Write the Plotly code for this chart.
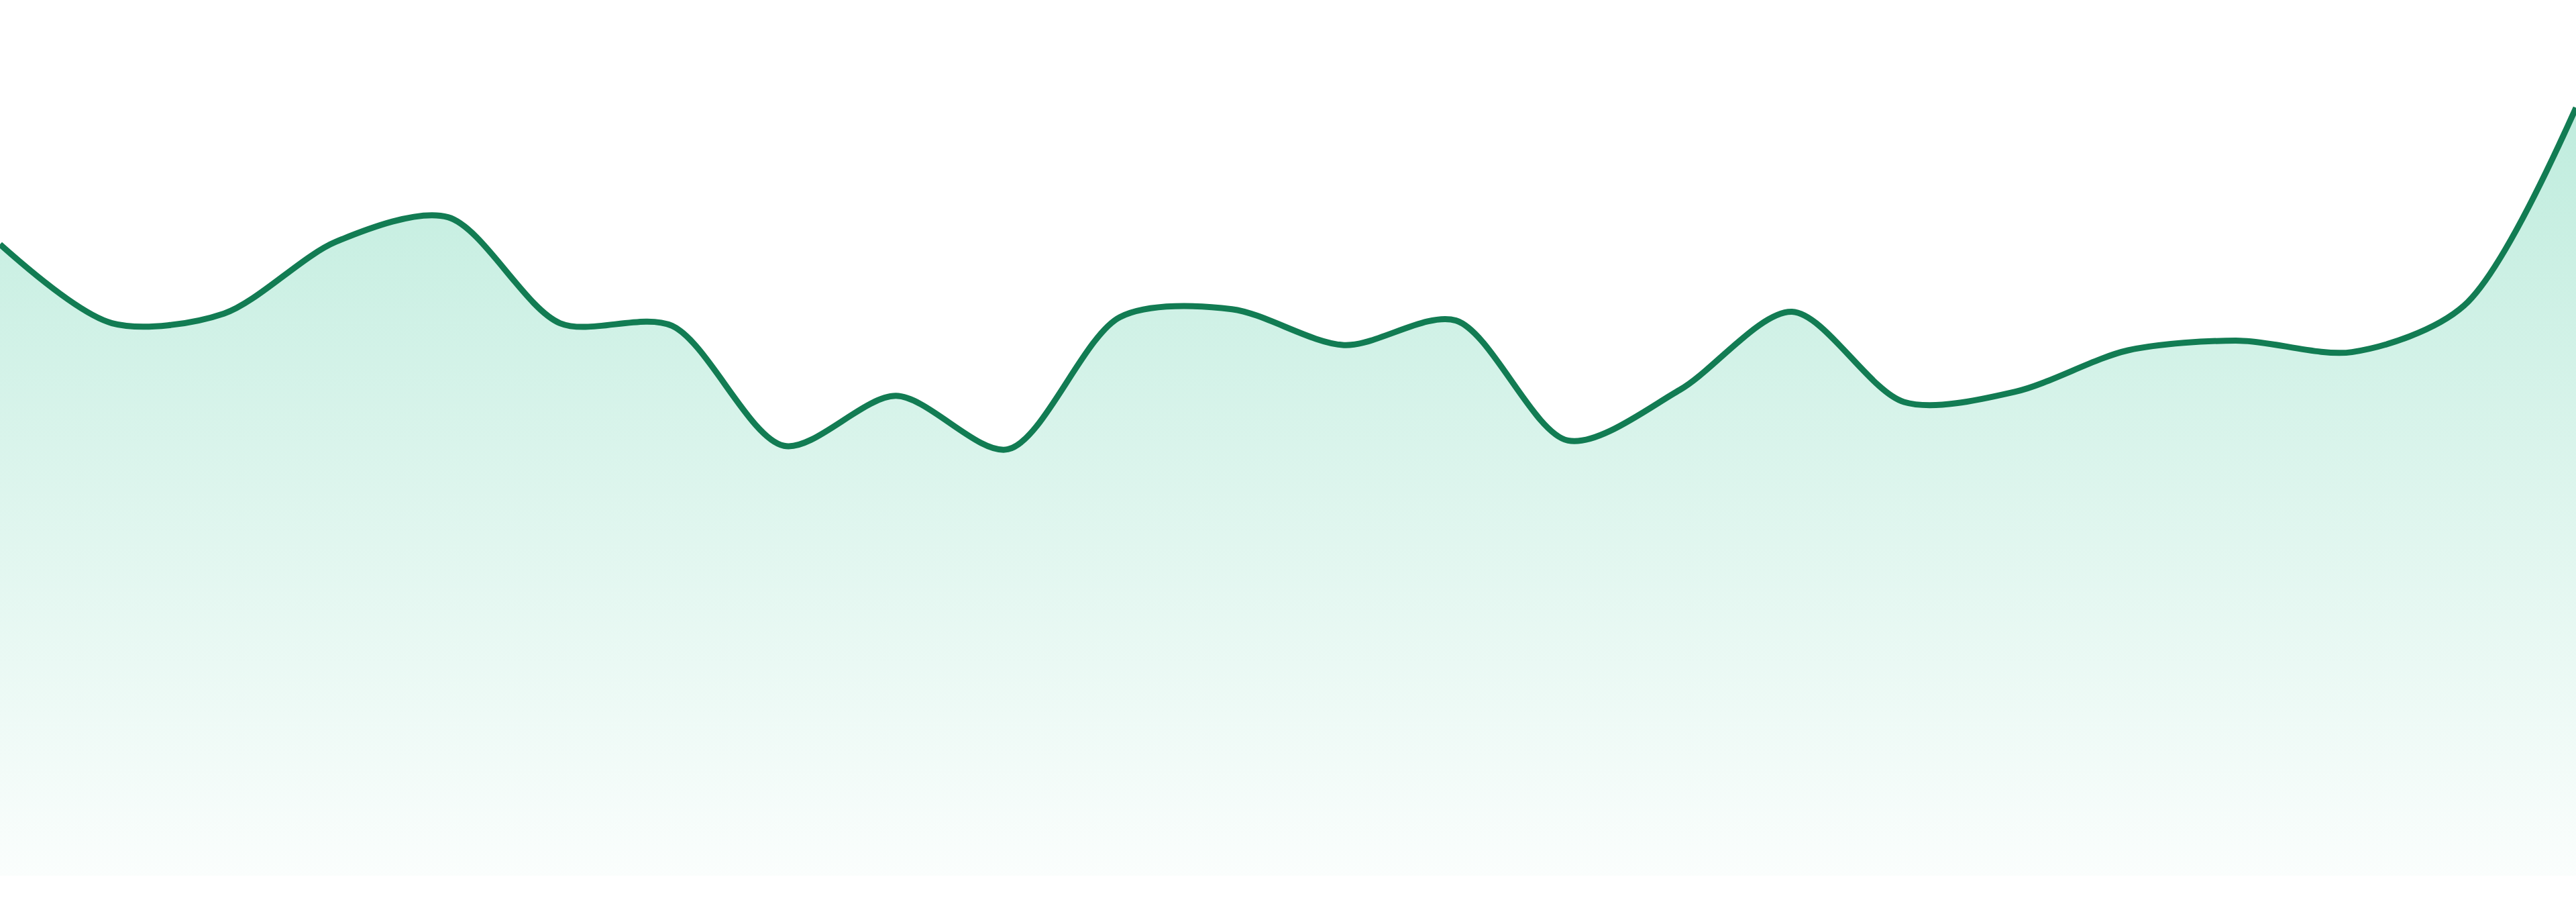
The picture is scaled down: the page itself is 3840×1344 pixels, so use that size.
"""Area sparkline with a soft vertical green gradient."""
import plotly.graph_objects as go

# data (24 evenly spaced samples)
days = list(range(24))
values = [
    72.1, 63.1, 64.2, 72.4, 75.2, 63.1, 62.8, 49.1,
    54.8, 48.7, 63.8, 64.7, 60.6, 63.4, 49.7, 55.5,
    64.4, 54.1, 55.3, 60.0, 61.1, 59.8, 65.1, 87.7,
]
y_range = [0, 100]

LINE = "#127c53"
FILL_TOP = "rgba(16, 185, 129, 0.30)"
FILL_BOTTOM = "rgba(16, 185, 129, 0.02)"

fig = go.Figure()
fig.add_trace(
    go.Scatter(
        x=days,
        y=values,
        mode="lines",
        line=dict(color=LINE, width=9, shape="spline", smoothing=0.85),
        fill="tozeroy",
        fillgradient=dict(
            type="vertical",
            start=y_range[0],
            stop=y_range[1],
            colorscale=[[0, FILL_BOTTOM], [1, FILL_TOP]],
        ),
        hoverinfo="skip",
        showlegend=False,
    )
)

fig.update_layout(
    width=3840,
    height=1344,
    margin=dict(l=0, r=0, t=0, b=39),
    paper_bgcolor="white",
    plot_bgcolor="white",
    xaxis=dict(visible=False, range=[days[0], days[-1]]),
    yaxis=dict(visible=False, range=y_range),
)

# drop the default page margin so the chart sits flush with the window
fig.write_html(
    "out.html",
    config={"displayModeBar": False},
    post_script="document.body.style.margin = '0';",
)
